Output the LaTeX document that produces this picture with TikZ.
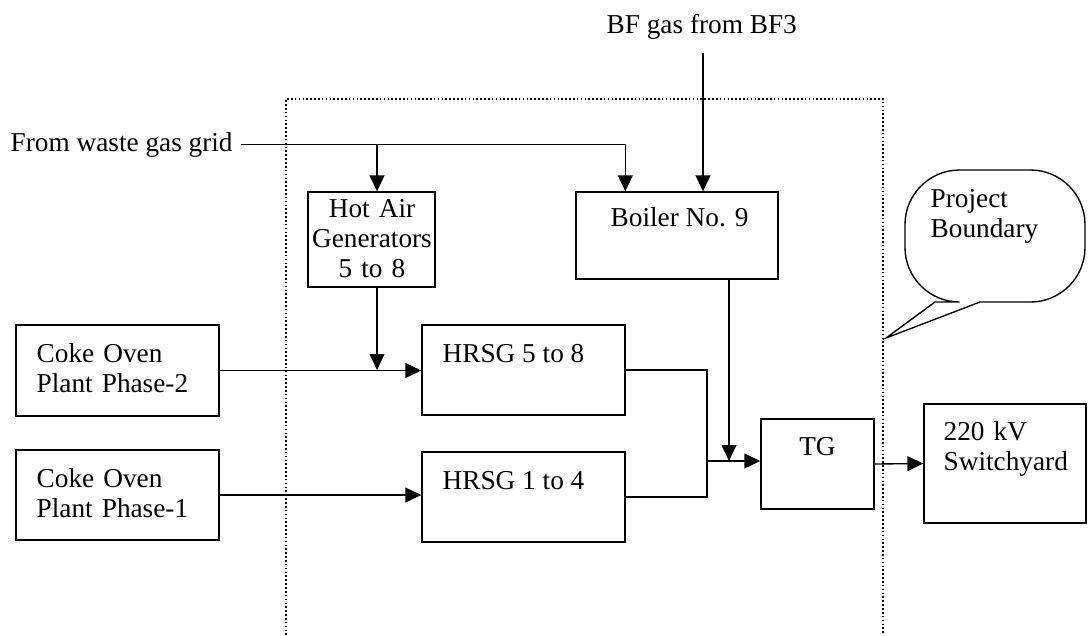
\documentclass[tikz,border=0pt]{standalone}
\usepackage{fontspec}
\setmainfont{Liberation Serif}
\usetikzlibrary{arrows.meta,calc,fit}

\begin{document}
\begin{tikzpicture}[x=0.44pt,y=-0.44pt,line width=0.6pt,
  font=\fontsize{12}{13.2}\selectfont,
  box/.style={draw,inner sep=0pt},
  txt/.style={inner sep=0pt,anchor=base west},
  ml/.style={align=left,text width=3cm},
  arr/.style={-{Triangle[length=7pt,width=6.5pt]}}]
\useasboundingbox (0,0) rectangle (1091,635);
% project boundary
\draw[densely dotted,line width=0.7pt] (286,635) |- (883,99) -- (883,635);
\draw (935,302) -- (886,338) -- (980,302) [rounded corners=24] -- (1085,302) -- (1085,170) -- (905,170) -- (905,302) [sharp corners] -- cycle;
\node[txt,ml] (pbtxt) at (930,207) {Project\\Boundary};
% boxes
\node[box,fit={(308,192)(435,287)}] (hag) {};
\node[txt,align=center,text width=3cm,anchor=base] (hagtxt) at (372,217) {Hot Air\\Generators\\5 to 8};
\node[box,fit={(576,192)(778,279)}] (boiler) {};
\node[txt] (boilertxt) at (610,226) {Boiler No. 9};
\node[box,fit={(16,325)(219,416)}] (coke2) {};
\node[txt,ml] (coke2txt) at (36,362) {Coke Oven\\Plant Phase-2};
\node[box,fit={(422,325)(625,415)}] (hrsg58) {};
\node[txt] (hrsg58txt) at (442,362) {HRSG 5 to 8};
\node[box,fit={(16,450)(219,540)}] (coke1) {};
\node[txt,ml] (coke1txt) at (36,487) {Coke Oven\\Plant Phase-1};
\node[box,fit={(422,452)(625,542)}] (hrsg14) {};
\node[txt] (hrsg14txt) at (442,489) {HRSG 1 to 4};
\node[box,fit={(761,419)(874,509)}] (tg) {};
\node[txt,anchor=base] (tgtxt) at (817.5,455) {TG};
\node[box,fit={(924,404)(1086,523)}] (swy) {};
\node[txt,ml] (swytxt) at (943,440) {220 kV\\Switchyard};
% gas inputs
\node[txt] (wastelbl) at (10,151) {From waste gas grid};
\node[txt] (bflbl) at (606,33) {BF gas from BF3};
\coordinate (bftop) at (703,53);
\coordinate (hagdrop) at (377,370);
\coordinate (bdrop) at (729,461);
\coordinate (mix) at (707,461);
% connectors
\draw[arr] ($(wastelbl.east)+(8,0)$) -| ($(boiler.north west)+(50,0)$);
\draw[arr] (hagdrop |- wastelbl.east) -- (hagdrop |- hag.north);
\draw[arr] (bftop) -- (bftop |- boiler.north);
\draw[arr] (hagdrop |- hag.south) -- (hagdrop);
\draw[arr] (coke2.east) -- (coke2.east -| hrsg58.west);
\draw[arr] (coke1.east) -- (coke1.east -| hrsg14.west);
\draw[arr] (bdrop |- boiler.south) -- (bdrop);
\draw (hrsg58.east) -| (mix);
\draw (hrsg14.east) -| (mix);
\draw[arr] (mix) -- (mix -| tg.west);
\draw[arr] (tg.east) -- (swy.west);
\end{tikzpicture}
\end{document}
